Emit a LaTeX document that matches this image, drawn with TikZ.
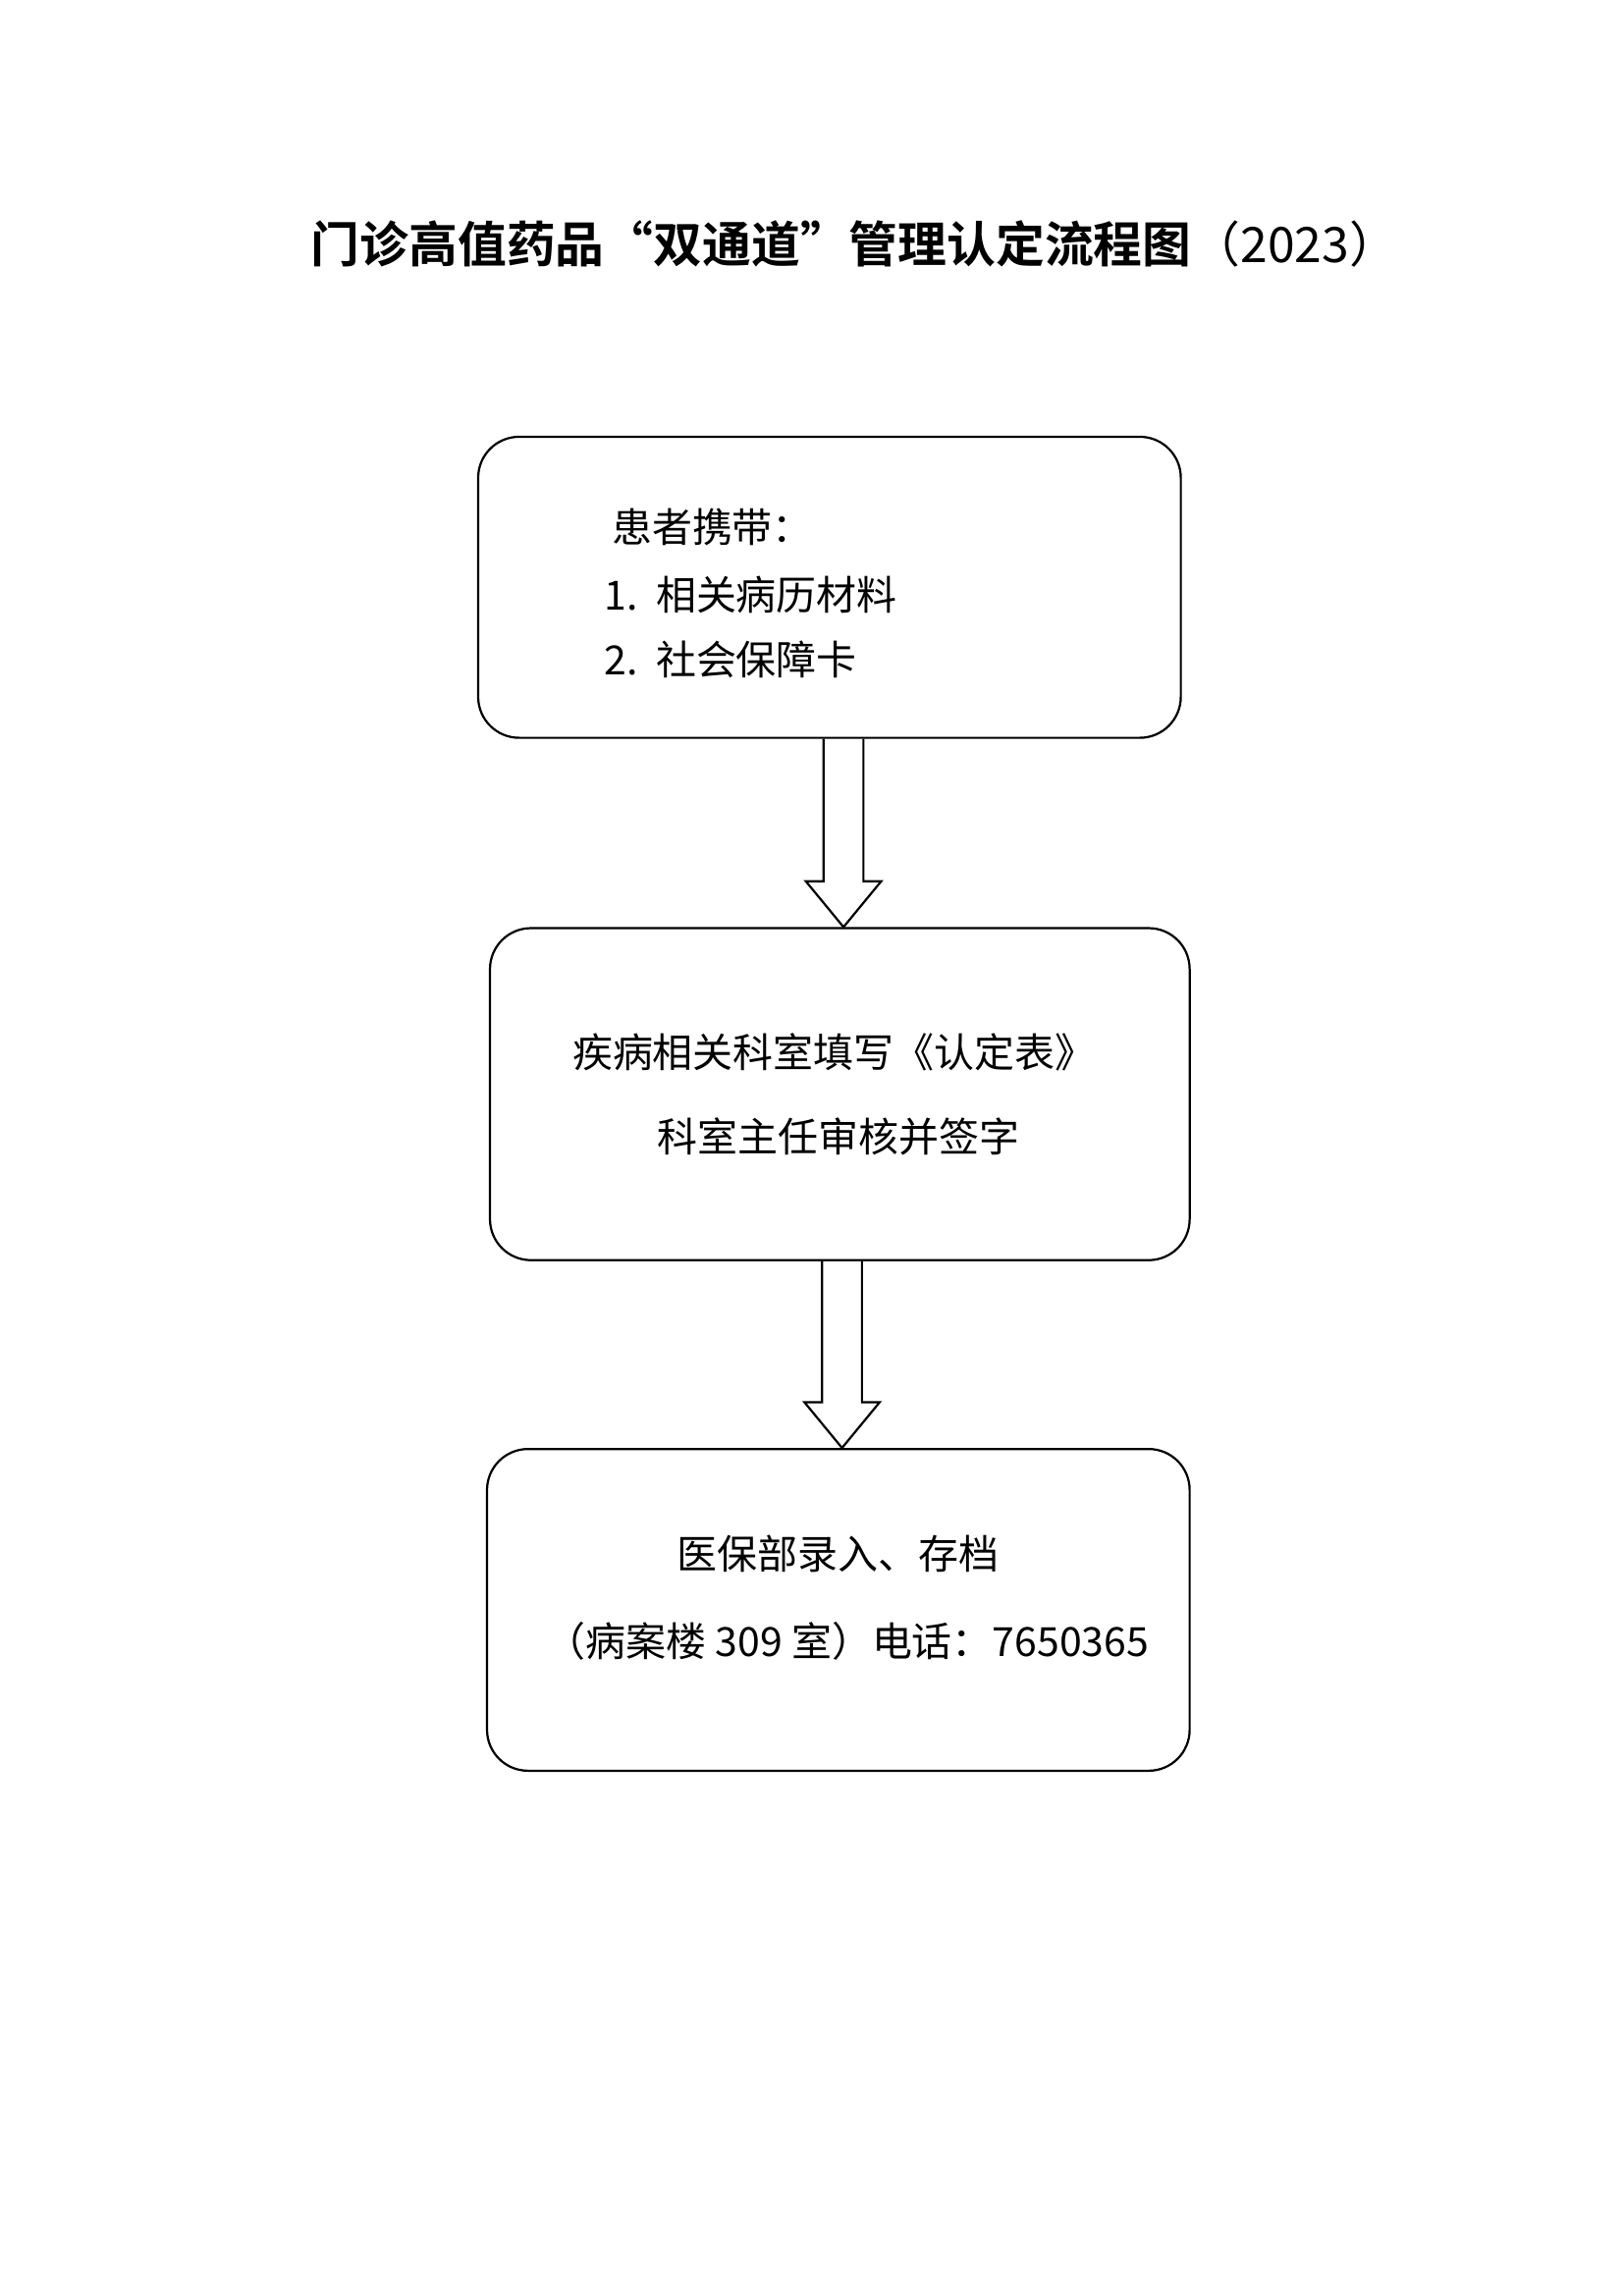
\documentclass[tikz,border=0pt]{standalone}
\usepackage{fontspec}
\setmainfont{Noto Sans CJK SC}
\newfontfamily\cjkb[BoldFont=* Bold]{Noto Sans CJK SC}
\usetikzlibrary{calc}
\tikzset{
  stagebox/.style={draw,thick,rounded corners=0.53cm,inner sep=0pt},
  stagetext/.style={font=\fontsize{14.8pt}{18pt}\selectfont},
}
\newcommand{\blockarrow}[2]{% top point, tip point
  \draw[thick] ($(#1)+(-13.5,0)$) -- ($(#2)+(-13.5,-31)$) -- ($(#2)+(-25.5,-31)$)
    -- (#2) -- ($(#2)+(25.5,-31)$) -- ($(#2)+(13.5,-31)$) -- ($(#1)+(13.5,0)$);}
\begin{document}
\begin{tikzpicture}[x=0.01909cm,y=-0.01909cm]
\useasboundingbox (0,0) rectangle (1100,1556);
%
\node[font=\cjkb\bfseries\fontsize{18pt}{22pt}\selectfont] (title) at (579,165)
  {门诊高值药品“双通道”管理认定流程图\mdseries（2023）};
%
\node[stagebox,minimum width=9.087cm,minimum height=3.894cm] (b1) at (562,398) {};
\node[stagetext,anchor=west] (b1a) at (408,357) {患者携带：};
\node[stagetext,anchor=west] (b1b) at (403,403) {1.\ \ 相关病历材料};
\node[stagetext,anchor=west] (b1c) at (403,447) {2.\ \ 社会保障卡};
%
\node[stagebox,minimum width=9.049cm,minimum height=4.295cm] (b2) at (569,741.5) {};
\node[stagetext] (b2a) at (565,713) {疾病相关科室填写《认定表》};
\node[stagetext] (b2b) at (568,770) {科室主任审核并签字};
%
\node[stagebox,minimum width=9.087cm,minimum height=4.162cm] (b3) at (568,1091) {};
\node[stagetext] (b3a) at (568,1053) {医保部录入、存档};
\node[stagetext] (b3b) at (574,1112) {（病案楼 309 室）电话：7650365};
%
\blockarrow{$(b1.south)+(9.5,0)$}{$(b2.north)+(2.5,0)$}
\blockarrow{$(b2.south)+(1.5,0)$}{$(b3.north)+(2.5,0)$}
\end{tikzpicture}
\end{document}
